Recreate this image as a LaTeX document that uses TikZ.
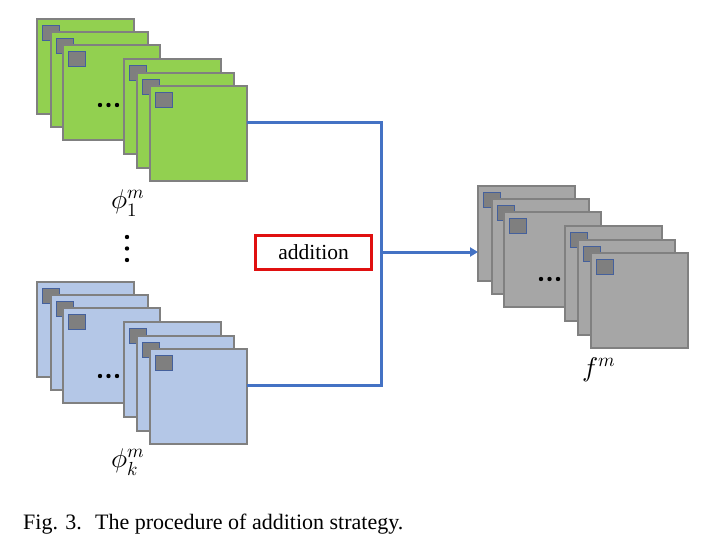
\documentclass[tikz,border=0pt]{standalone}
\usepackage{fontspec}
\setmainfont{Liberation Serif}
\usepackage{unicode-math}
\setmathfont{Latin Modern Math}
\usetikzlibrary{arrows.meta}
\definecolor{fgreen}{HTML}{92D050}
\definecolor{fblue}{HTML}{B4C7E7}
\definecolor{fgray}{HTML}{A6A6A6}
\definecolor{fedge}{HTML}{808080}
\definecolor{sqfill}{HTML}{7F7F7F}
\definecolor{sqedge}{HTML}{44609C}
\definecolor{conn}{HTML}{4472C4}
\definecolor{redbox}{HTML}{E01010}
\tikzset{
  frame/.style={draw=fedge, line width=2.6pt, minimum width=97pt, minimum height=95pt, inner sep=0pt, anchor=north west, outer sep=0pt},
  patch/.style={draw=sqedge, fill=sqfill, line width=1.4pt, minimum width=17pt, minimum height=15pt, inner sep=0pt, anchor=north west},
  dotc/.style={fill=black, circle, inner sep=0pt, minimum size=4.4pt},
  wire/.style={draw=conn, line width=3pt},
  lbl/.style={inner sep=0pt, font=\fontsize{27}{30}\selectfont}
}
% stack: #1 prefix, #2 x, #3 y, #4 fill, #5 dot y-offset
\newcommand\fmstack[5]{%
  \foreach \i/\dx/\dy in {1/0/0,2/14/13,3/26/26,4/87/40,5/100/54,6/113/67}{%
    \node[frame, fill=#4] (#1\i) at (#2+\dx, #3+\dy) {};
    \node[patch] (#1\i p) at (#2+\dx+5, #3+\dy+6) {};
    \ifnum\i=3
      \node[dotc] (#1d1) at (#2+\dx+37, #3+\dy+#5) {};
      \node[dotc] (#1d2) at (#2+\dx+45.5, #3+\dy+#5) {};
      \node[dotc] (#1d3) at (#2+\dx+54, #3+\dy+#5) {};
    \fi
  }%
}
\begin{document}
\begin{tikzpicture}[x=1pt, y=-1pt]
\useasboundingbox[fill=white] (0,0) rectangle (706,553);
\fmstack{g}{37}{19}{fgreen}{60}
\fmstack{b}{37}{282}{fblue}{68}
\fmstack{a}{478}{186}{fgray}{67}

\node[lbl] (phi1) at (128,203) {$\phi_1^m$};
\node[dotc] (vd1) at (127,237) {};
\node[dotc] (vd2) at (127,248.5) {};
\node[dotc] (vd3) at (127,260) {};
\node[lbl] (phik) at (128,462) {$\phi_k^m$};
\node[lbl] (fm) at (599,370) {$f^m$};

\node[draw=redbox, line width=3.5pt, minimum width=116pt, minimum height=34pt, inner sep=0pt,
      font=\fontsize{21.5}{24}\selectfont] (add) at (313.5,252.5) {addition};

\coordinate (jt) at (381,123);
\coordinate (jm) at (381,252);
\coordinate (jb) at (381,385);
\draw[wire, line join=miter] (g6.east |- jt) -- (jt) -- (jb) -- (b6.east |- jb);
\draw[wire, -{Triangle[length=8pt,width=9pt]}] (jm) -- (a1.west |- jm);

\node[anchor=west, inner sep=0pt, font=\fontsize{22}{26}\selectfont] (cap) at (23,524) {Fig. 3.\hspace{0.6em}The procedure of addition strategy.};
\end{tikzpicture}
\end{document}
